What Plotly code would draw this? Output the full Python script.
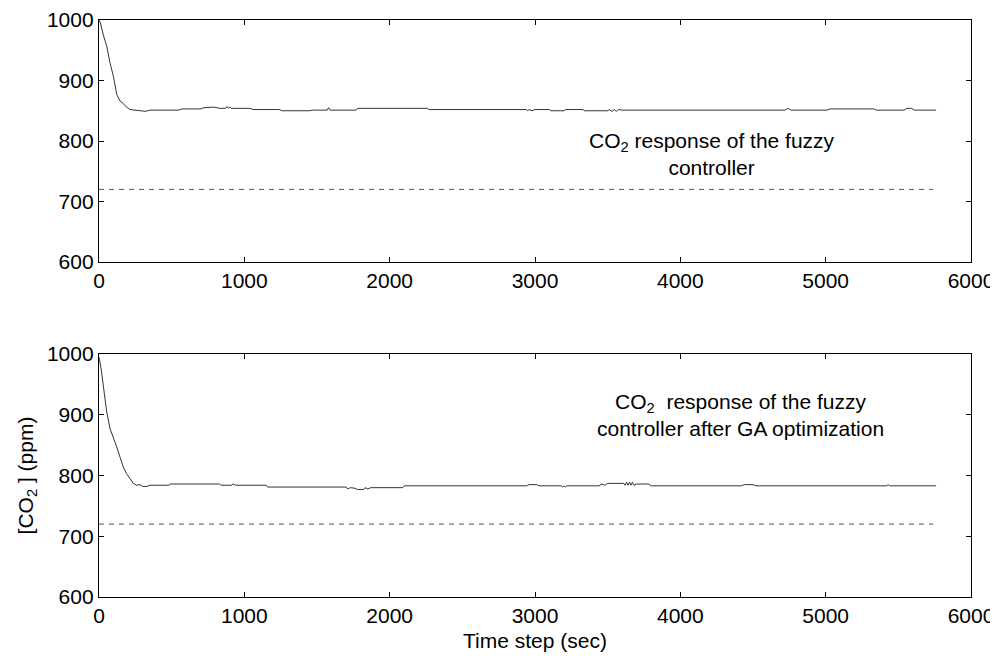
import plotly.graph_objects as go

# ---- data ----
t_fuzzy = [0, 10, 30, 53, 75, 99, 122, 145, 167, 190, 213, 250, 282, 320, 350, 550, 570, 700, 720, 790,
           830, 870, 880, 890, 900, 910, 1040, 1060, 1240, 1260, 1450, 1470, 1570, 1580, 1590, 1770, 1780,
           2260, 2270, 2940, 2950, 2960, 2980, 3000, 3100, 3110, 3200, 3210, 3330, 3340, 3500, 3510, 3530,
           3545, 3560, 3575, 3600, 4720, 4740, 4760, 5010, 5030, 5330, 5350, 5540, 5560, 5590, 5610, 5760]
co2_fuzzy = [1000, 995, 975, 957, 930, 907, 877, 866, 862, 856, 852, 851, 849, 849, 851, 851, 853, 853, 855, 856,
             854, 854, 857, 854, 856, 854, 854, 852, 852, 850, 850, 851, 851, 855, 851, 851, 854,
             854, 852, 852, 850, 852, 850, 852, 852, 850, 850, 852, 852, 850, 850, 852, 849,
             852, 849, 852, 851, 851, 854, 851, 851, 853, 853, 851, 851, 854, 854, 851, 851]

t_ga = [0, 15, 30, 53, 76, 100, 122, 145, 167, 190, 213, 236, 260, 282, 300, 330, 350, 480, 490, 830,
        840, 910, 925, 940, 1150, 1160, 1700, 1710, 1730, 1760, 1780, 1820, 1830, 1850, 1870, 2090, 2100,
        2940, 2960, 3010, 3030, 3180, 3190, 3200, 3210, 3220, 3440, 3460, 3480, 3500, 3610, 3620, 3630,
        3640, 3650, 3660, 3670, 3680, 3700, 3780, 3800, 4420, 4440, 4500, 4520, 5420, 5430, 5440, 5760]
co2_ga = [995, 975, 947, 905, 877, 862, 847, 830, 814, 803, 795, 787, 784, 785, 782, 782, 784, 784, 786, 786,
          784, 784, 786, 784, 784, 781, 781, 778, 780, 779, 777, 777, 780, 778, 780, 780, 783,
          783, 785, 785, 783, 783, 781, 783, 781, 783, 783, 786, 784, 787, 787, 784, 789,
          784, 789, 784, 789, 784, 786, 786, 783, 783, 785, 785, 783, 783, 785, 783, 783]

setpoint_t = [0, 5740]
setpoint = [720, 720]

x_ticks = [0, 1000, 2000, 3000, 4000, 5000, 6000]
y_ticks = [600, 700, 800, 900, 1000]

label_top = "CO<sub>2</sub> response of the fuzzy<br>controller"
label_bottom = "CO<sub>2</sub>&nbsp; response of the fuzzy<br>controller after GA optimization"

FONT = "Liberation Sans, Arial, sans-serif"
LINE = "#333333"
FS = 21

fig = go.Figure()
fig.add_trace(go.Scatter(x=t_fuzzy, y=co2_fuzzy, mode="lines", line=dict(color=LINE, width=1),
                         xaxis="x", yaxis="y", showlegend=False))
fig.add_trace(go.Scatter(x=setpoint_t, y=setpoint, mode="lines",
                         line=dict(color="#555555", width=1, dash="5px,5px"),
                         xaxis="x", yaxis="y", showlegend=False))
fig.add_trace(go.Scatter(x=t_ga, y=co2_ga, mode="lines", line=dict(color=LINE, width=1),
                         xaxis="x2", yaxis="y2", showlegend=False))
fig.add_trace(go.Scatter(x=setpoint_t, y=setpoint, mode="lines",
                         line=dict(color="#555555", width=1, dash="5px,5px"),
                         xaxis="x2", yaxis="y2", showlegend=False))

axis_common = dict(showline=True, linecolor="black", linewidth=1.3, mirror="ticks",
                   ticks="inside", ticklen=5, tickcolor="black", showgrid=False, zeroline=False,
                   automargin=False,
                   tickfont=dict(size=FS, color="black", family=FONT))

# the page body adds an 8px offset, so the figure is sized 990x650
fig.update_layout(
    width=990, height=650,
    paper_bgcolor="white", plot_bgcolor="white",
    margin=dict(l=91, r=27, t=12, b=61),
    font=dict(family=FONT, color="black", size=FS),
    xaxis=dict(domain=[0, 1], anchor="y", range=[0, 6000], tickvals=x_ticks, **axis_common),
    yaxis=dict(domain=[0.5806, 1], anchor="x", range=[600, 1000], tickvals=y_ticks, **axis_common),
    xaxis2=dict(domain=[0, 1], anchor="y2", range=[0, 6000], tickvals=x_ticks,
                title=dict(text="Time step (sec)", font=dict(size=FS), standoff=6), **axis_common),
    yaxis2=dict(domain=[0, 0.4211], anchor="x2", range=[600, 1000], tickvals=y_ticks,
                title=dict(text="[CO<sub>2</sub> ] (ppm)", font=dict(size=FS), standoff=7), **axis_common),
    annotations=[
        dict(x=4220, y=778, xref="x", yref="y", text=label_top, showarrow=False,
             font=dict(size=FS, family=FONT, color="black"), align="center", yanchor="middle"),
        dict(x=4412, y=899, xref="x2", yref="y2", text=label_bottom, showarrow=False,
             font=dict(size=FS, family=FONT, color="black"), align="center", yanchor="middle"),
    ],
)

fig.write_html("out.html")
